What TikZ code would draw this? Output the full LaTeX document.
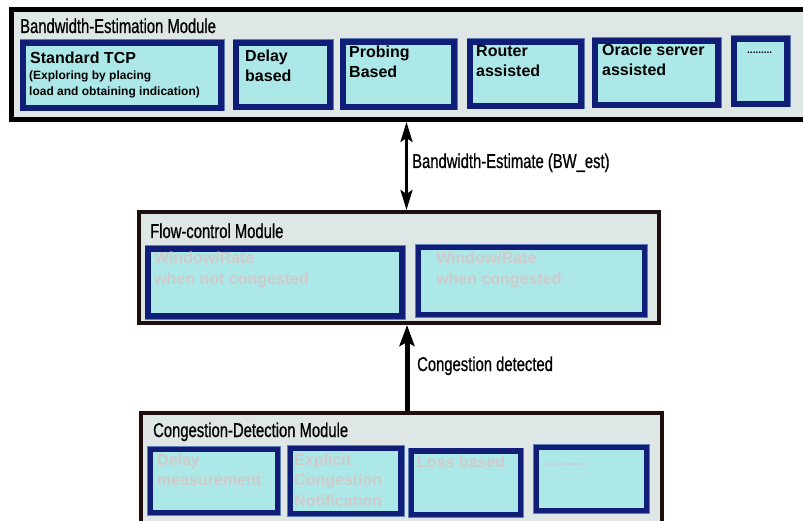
\documentclass[tikz,border=0pt]{standalone}
\usepackage{fontspec}
\setmainfont{Liberation Sans}
\newfontfamily\condfont[FakeStretch=0.74,FakeBold=0.7]{Liberation Sans}
\usetikzlibrary{arrows.meta,fit}

\definecolor{panelgray}{RGB}{222,230,230}
\definecolor{cellfill}{RGB}{173,232,232}
\definecolor{cellnavy}{RGB}{16,30,120}
\definecolor{celledge}{RGB}{95,125,185}
\definecolor{frameink}{RGB}{30,14,14}
\definecolor{fadedtext}{RGB}{208,202,202}

% multi-line label whose baseline is the first line
\newcommand\cellstack[1]{\begin{tabular}[t]{@{}l@{}}#1\end{tabular}}

\begin{document}
\begin{tikzpicture}[x=1pt,y=-1pt,
  module/.style={rectangle,inner sep=0pt,fill=panelgray,draw=frameink,line width=4pt},
  cell/.style={rectangle,inner sep=0pt,fill=cellfill,draw=cellnavy,line width=5.5pt,
    preaction={draw=celledge,line width=7pt}},
  title/.style={anchor=base west,inner sep=0pt,font=\condfont\fontsize{20}{24}\selectfont},
  cellname/.style={anchor=base west,inner sep=0pt,font=\bfseries\fontsize{16}{20}\selectfont},
  cellnote/.style={anchor=base west,inner sep=0pt,font=\bfseries\fontsize{12}{16}\selectfont},
  faded/.style={cellname,text=fadedtext,font=\bfseries\fontsize{16}{20.5}\selectfont},
  estarrow/.style={line width=3pt,
    {Stealth[length=20pt,width=12pt,inset=4pt]}-{Stealth[length=20pt,width=12pt,inset=4pt]}},
  detarrow/.style={line width=5pt,-{Stealth[length=21pt,width=15pt,inset=4pt]}}]

\useasboundingbox (0,0) rectangle (803,521);
\clip (0,0) rectangle (803,521);

% ---------------- Bandwidth-Estimation Module ----------------
\node[module,draw=black,line width=5pt,fit={(11.5,9.5) (830,119.5)}] (bwe) {};
\node[title] (bwetitle) at (20,33) {Bandwidth-Estimation Module};

\node[cell,fit={(23,43) (221,108)}] (tcp) {};
\node[cell,fit={(236,43) (330,107)}] (delay) {};
\node[cell,fit={(343,42) (454,107)}] (probe) {};
\node[cell,fit={(470,42) (581,106)}] (router) {};
\node[cell,fit={(595,41) (718,105)}] (oracle) {};
\node[cell,fit={(734,39) (787,104)}] (bwmore) {};

\node[cellname] (tcpname) at (30,64) {Standard TCP};
\node[cellnote] (tcpnote) at (29,80) {\cellstack{(Exploring by placing\\load and obtaining indication)}};
\node[cellname] (delayname) at (245,62) {\cellstack{Delay\\based}};
\node[cellname] (probename) at (349,58) {\cellstack{Probing\\Based}};
\node[cellname] (routername) at (476,57) {\cellstack{Router\\assisted}};
\node[cellname] (oraclename) at (602,56) {\cellstack{Oracle server\\assisted}};
\node[anchor=base west,inner sep=0pt,font=\bfseries\fontsize{10}{12}\selectfont] (bwmorename) at (747,54) {.........};

% ---------------- Flow-control Module ----------------
\node[module,fit={(139,212) (659,323)}] (flow) {};
\node[title] (flowtitle) at (150,238) {Flow-control Module};

\node[cell,fit={(148,249) (402,316)}] (calm) {};
\node[cell,fit={(418.5,247.5) (644.5,314.5)}] (congested) {};

\node[faded] (calmname) at (154,264) {\cellstack{Window/Rate\\when not congested}};
\node[faded] (congestedname) at (436,264) {\cellstack{Window/Rate\\when congested}};

% ---------------- Congestion-Detection Module ----------------
\node[module,fit={(141,413) (662,560)}] (detect) {};
\node[title] (detecttitle) at (153,437) {Congestion-Detection Module};

\node[cell,fit={(150.5,449.5) (277.5,512.5)}] (dmeas) {};
\node[cell,fit={(290.5,448.5) (401,513.5)}] (ecn) {};
\node[cell,fit={(411.5,451) (520.5,514.5)}] (loss) {};
\node[cell,fit={(536.5,447.5) (646.5,510.5)}] (detmore) {};

\node[faded] (dmeasname) at (157,465) {\cellstack{Delay\\measurement}};
\node[faded] (ecnname) at (294,465) {\cellstack{Explicit\\Congestion\\Notification}};
\node[faded] (lossname) at (417,467) {Loss based};
\node[faded] (detmorename) at (545,465) {.........};

% ---------------- Connectors ----------------
\coordinate (estaxis) at (406.5,0);
\coordinate (detaxis) at (407,0);
\draw[estarrow] (bwe.south -| estaxis) -- (flow.north -| estaxis);
\draw[detarrow] (detect.north -| detaxis) -- (flow.south -| detaxis);

\node[title] (estlabel) at (412,168) {Bandwidth-Estimate (BW\_est)};
\node[title] (detlabel) at (417,371) {Congestion detected};

\end{tikzpicture}
\end{document}
